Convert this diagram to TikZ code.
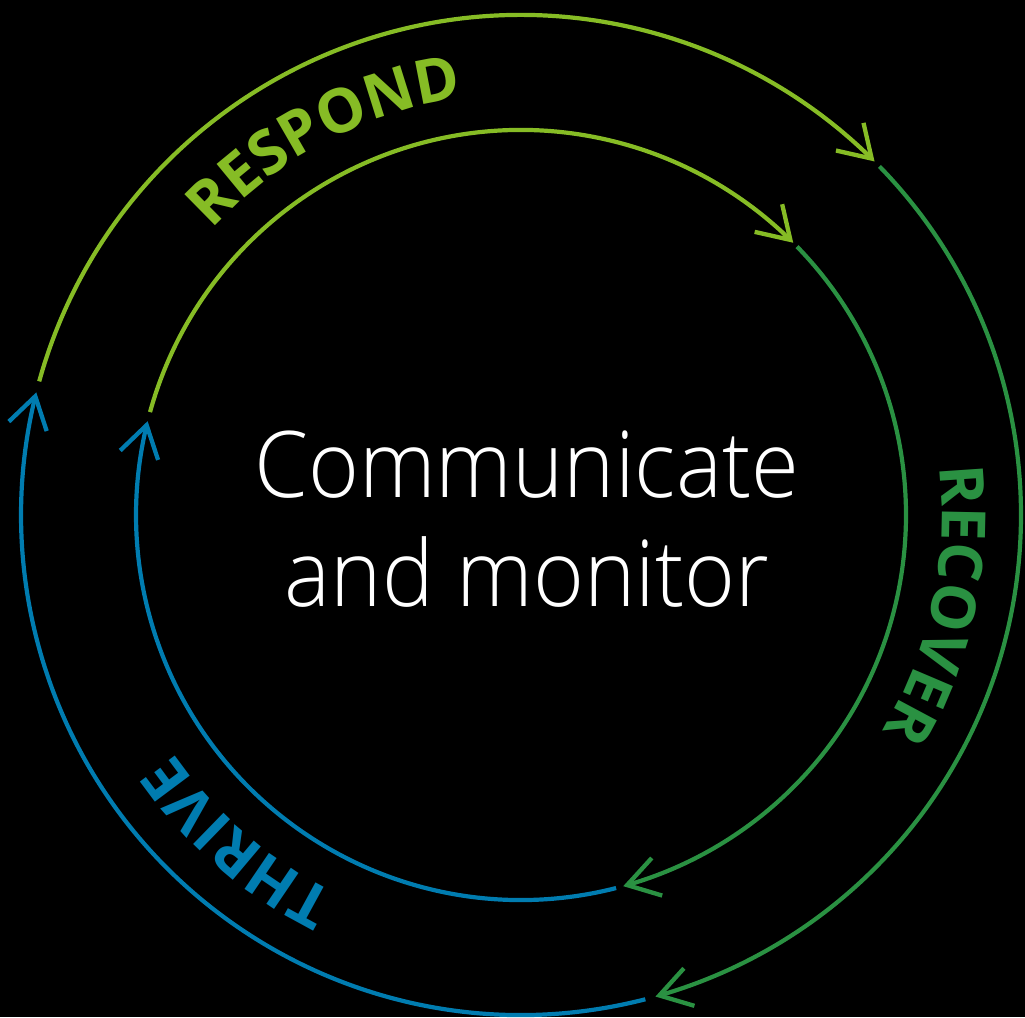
\documentclass[tikz,border=0pt]{standalone}
\usepackage{fontspec}
\setmainfont{Open Sans}
\IfFontExistsTF{Open Sans Light}
  {\newfontfamily\ctrfont{Open Sans Light}\newcommand\ctrscale{0.945}}
  {\newfontfamily\ctrfont{Open Sans}\newcommand\ctrscale{0.85}}
\usetikzlibrary{arrows.meta,bending,decorations.text}
\definecolor{lgreen}{HTML}{86BC25}
\definecolor{dgreen}{HTML}{2A9142}
\definecolor{tblue}{HTML}{007CB0}
\newcommand\lblfmt{\fontsize{61}{63}\selectfont\bfseries}
\begin{document}
\begin{tikzpicture}[x=1pt,y=1pt,
  ring/.style={line width=4.2pt},
  tip/.style={-{Straight Barb[length=31pt,width=39pt,line width=4.3pt]}},
  center text/.style={text=white,font=\ctrfont\fontsize{92}{100}\selectfont,anchor=base,inner sep=0pt,xscale=\ctrscale}]
\fill[black] (0,0) rectangle (1025,1017);
\useasboundingbox (0,0) rectangle (1025,1017);
\coordinate (C) at (521,502);
% outer ring
\draw[ring,lgreen,tip] (C) ++(164.5:500) arc[start angle=164.5,end angle=45,radius=500];
\draw[ring,dgreen,tip] (C) ++(44.2:500) arc[start angle=44.2,end angle=-74.4,radius=500];
\draw[ring,tblue,tip] (C) ++(-75.6:500) arc[start angle=-75.6,end angle=-194.2,radius=500];
% inner ring
\draw[ring,lgreen,tip] (C) ++(164.5:385) arc[start angle=164.5,end angle=45,radius=385];
\draw[ring,dgreen,tip] (C) ++(44.2:385) arc[start angle=44.2,end angle=-74.6,radius=385];
\draw[ring,tblue,tip] (C) ++(-75.7:385) arc[start angle=-75.7,end angle=-194.1,radius=385];
% labels along the ring
\path[decorate,decoration={text along path,text align=center,text color=lgreen,text={|\lblfmt|RESPOND}}]
  (C) ++(157.6:421) arc[start angle=157.6,end angle=77.6,radius=421];
\path[decorate,decoration={text along path,text align=center,text color=dgreen,text={|\lblfmt|RECOVER}}]
  (C) ++(27.9:421) arc[start angle=27.9,end angle=-52.1,radius=421];
\path[decorate,decoration={text along path,text align=center,text color=tblue,text={|\lblfmt|THRIVE}}]
  (C) ++(269.1:421) arc[start angle=269.1,end angle=189.1,radius=421];
% centre text
\node[center text] (l1) at (526.5,519) {Communicate};
\node[center text] (l2) at (527,410) {and monitor};
\end{tikzpicture}
\end{document}
